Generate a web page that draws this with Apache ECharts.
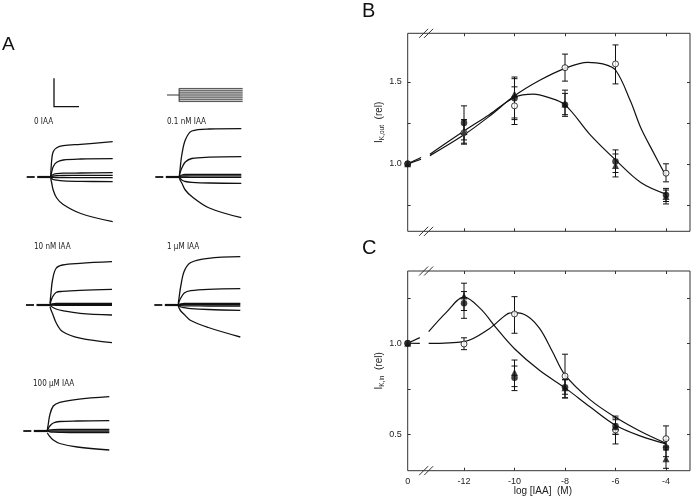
<!DOCTYPE html>
<html><head><meta charset="utf-8">
<script src="https://cdn.jsdelivr.net/npm/echarts@6/dist/echarts.min.js"></script>
<style>html,body{margin:0;padding:0;background:#fff}#c{width:694px;height:504px}</style>
</head><body><div id="c"></div>
<script>
// ================= DATA =================
// Panels B and C: dose (log[IAA], M); 0 = control (no IAA), drawn at the axis break
const doses = [0, -12, -10, -8, -6, -4];
const xTickLabels = ['0', '-12', '-10', '-8', '-6', '-4'];

// B: I_K,out (rel)
const koutOpen   = [1.00, 1.19, 1.354, 1.587, 1.61, 0.943];
const koutOpenLo = [null, 1.12, 1.24, 1.505, 1.488, 0.89];
const koutOpenHi = [null, 1.27, 1.47, 1.67, 1.726, 1.00];
const koutFill   = [1.00, 1.25, 1.40, 1.36, 1.014, 0.81];
const koutFillLo = [null, 1.146, 1.27, 1.29, 0.947, 0.77];
const koutFillHi = [null, 1.354, 1.53, 1.45, 1.085, 0.85];
const koutTri    = [1.00, 1.197, 1.427, 1.366, 0.99, 0.80];
const koutTriLo  = [null, 1.126, 1.28, 1.30, 0.92, 0.755];
const koutTriHi  = [null, 1.268, 1.52, 1.43, 1.06, 0.84];

// C: I_K,in (rel)
const kinOpen   = [1.00, 0.996, 1.161, 0.82, 0.524, 0.476];
const kinOpenLo = [null, 0.965, 1.055, 0.70, 0.447, 0.414];
const kinOpenHi = [null, 1.03, 1.256, 0.94, 0.60, 0.546];
const kinFill   = [1.00, 1.22, 0.811, 0.758, 0.546, 0.427];
const kinFillLo = [null, 1.137, 0.74, 0.72, 0.50, 0.377];
const kinFillHi = [null, 1.284, 0.875, 0.80, 0.59, 0.469];
const kinTri    = [1.00, 1.26, 0.839, 0.756, 0.542, 0.366];
const kinTriLo  = [null, 1.18, 0.762, 0.70, 0.50, 0.313];
const kinTriHi  = [null, 1.33, 0.908, 0.80, 0.58, 0.43];

// fitted curves; null = gap at axis break
const fitBOpenX = [0, -13.7, null, -13.35, -12, -11, -10, -9, -8, -7.1, -6.5, -6, -5.4, -5, -4.5, -4];
const fitBOpenY = [1.0, 1.028, null, 1.05, 1.177, 1.29, 1.415, 1.51, 1.583, 1.62, 1.61, 1.573, 1.38, 1.22, 1.07, 0.925];
const fitBFillX = [0, -13.7, null, -13.35, -12, -11, -10, -9.25, -8.7, -8, -7, -6, -5, -4];
const fitBFillY = [1.0, 1.039, null, 1.059, 1.20, 1.30, 1.405, 1.425, 1.407, 1.36, 1.177, 1.024, 0.886, 0.815];
const fitCFillX = [0, -13.75, null, -13.4, -12.7, -12, -11.35, -10.7, -10, -9, -8, -7, -6, -5, -4];
const fitCFillY = [1.0, 1.031, null, 1.064, 1.17, 1.253, 1.19, 1.08, 0.97, 0.85, 0.755, 0.65, 0.55, 0.49, 0.447];
const fitCOpenX = [0, -13.75, null, -13.4, -12, -11, -10.3, -10, -9.5, -9, -8.5, -8, -7, -6, -5, -4];
const fitCOpenY = [1.0, 0.999, null, 0.999, 1.009, 1.08, 1.16, 1.168, 1.15, 1.08, 0.955, 0.826, 0.689, 0.593, 0.515, 0.45];

// Panel A: current traces (a.u., + = outward), sampled at traceT (ms after step onset)
const traceT = [0, 1, 2.5, 6, 12.5, 30, 62];
const holdDashT = [-24, -16];
const holdPreT = [-13.5, 0];
const tr0IAA = [
  [0.3, 17, 25.3, 29.3, 31.3, 32.7, 35.3],
  [0, 5, 10.3, 14.7, 17, 18, 18.3],
  [0, 1.5, 2.5, 3.3, 3.8, 4.0, 4.3],
  [0, 0.5, 1, 1.3, 1.5, 1.6, 1.7],
  [0, -0.2, -0.4, -0.5, -0.6, -0.7, -0.7],
  [0, -1.5, -2.5, -3.2, -3.8, -4.3, -4.7],
  [-1, -6, -13, -21, -27.5, -36.5, -44.7]
];
const tr01nM = [
  [0, 10, 22, 37, 46, 48, 48.3],
  [1.3, 5, 9, 15, 18.5, 19.8, 20.3],
  [0, 1, 2, 2.5, 2.7, 2.7, 2.7],
  [0, 0.5, 0.8, 1, 1.1, 1.2, 1.2],
  [0, -0.2, -0.3, -0.3, -0.3, -0.3, -0.3],
  [0, -1.5, -3, -4.5, -5.3, -6, -6.3],
  [-1.3, -3.5, -6, -13, -19.5, -31, -40.7]
];
const tr10nM = [
  [1.7, 12, 25, 36.5, 40, 41.7, 43.3],
  [0.5, 4, 8, 12.5, 13.6, 14.7, 15.7],
  [0, 0.8, 1.2, 1.5, 1.6, 1.7, 1.7],
  [0, 0.3, 0.5, 0.6, 0.7, 0.7, 0.7],
  [0, -0.1, -0.2, -0.3, -0.3, -0.3, -0.3],
  [0, -1, -2.3, -4, -5.7, -8.3, -10],
  [-1.7, -5, -8.5, -17.5, -26.5, -33.2, -37.7]
];
const tr1uM = [
  [1.7, 9, 19, 34, 42.5, 46.7, 48.3],
  [0.5, 4, 7, 12, 14.3, 15.7, 16.3],
  [0, 0.8, 1.2, 1.5, 1.6, 1.7, 1.7],
  [0, 0.2, 0.4, 0.5, 0.5, 0.5, 0.5],
  [0, -0.3, -0.6, -0.8, -0.9, -1, -1],
  [0, -1, -2, -2.7, -3.6, -4.5, -5.3],
  [-1, -3.5, -6, -9.5, -15.5, -22.5, -32]
];
const tr100uM = [
  [1, 7, 16, 25, 28.7, 31.7, 34.3],
  [0, 2.5, 5, 8, 9.5, 10, 10.3],
  [0, 0.6, 1.1, 1.4, 1.6, 1.7, 1.7],
  [0, 0, 0, 0, 0, 0, 0],
  [0, -0.4, -0.8, -1.1, -1.3, -1.5, -1.5],
  [-1.7, -3.5, -5.5, -9, -12.5, -16, -19]
];
const panelLabels = ['0 IAA', '0.1 nM IAA', '10 nM IAA', '1 \u00b5M IAA', '100 \u00b5M IAA'];

// voltage protocol inset (mV)
const protoSteps = [50, 20, -10, -40, -70, -100, -130, -160];
const protoHold = -55;
const protoLeadT = [-12, 0];
const protoEndT = 63;

// ================= LAYOUT / STYLE =================
const ZERO_POS = -14.23;   // where the control (0) is drawn on the broken log axis
const X_MAX = -3.05;
const mapX = d => (d === 0 ? ZERO_POS : d);
const FONT = 'Liberation Sans, Arial, sans-serif';
const INK = '#111';

const grids = [], xAxes = [], yAxes = [], series = [], graphics = [];

function hiddenGrid(rect, xmin, xmax, ymin, ymax) {
  grids.push(Object.assign({ containLabel: false }, rect));
  const gi = grids.length - 1;
  xAxes.push({ gridIndex: gi, type: 'value', min: xmin, max: xmax, show: false });
  yAxes.push({ gridIndex: gi, type: 'value', min: ymin, max: ymax, show: false });
  return xAxes.length - 1;
}

// ---- Panel A trace grids ----
const panelA = [
  { traces: tr0IAA,  left: 25.7,  top: 127, lx: 34,  ly: 123 },
  { traces: tr01nM,  left: 154.3, top: 127, lx: 167, ly: 123 },
  { traces: tr10nM,  left: 25,    top: 255, lx: 34,  ly: 247.5 },
  { traces: tr1uM,   left: 153.3, top: 255, lx: 167, ly: 247.5 },
  { traces: tr100uM, left: 22.3,  top: 381, lx: 33,  ly: 385 }
];
panelA.forEach((p, k) => {
  const ai = hiddenGrid({ left: p.left, top: p.top, width: 87, height: 100 }, -25, 62, -50, 50);
  series.push({ type: 'line', xAxisIndex: ai, yAxisIndex: ai, symbol: 'none', silent: true,
    data: holdDashT.map(t => [t, 0]), lineStyle: { color: INK, width: 1.8 } });
  series.push({ type: 'line', xAxisIndex: ai, yAxisIndex: ai, symbol: 'none', silent: true,
    data: holdPreT.map(t => [t, 0]), lineStyle: { color: INK, width: 2.2 } });
  p.traces.forEach(tr => {
    series.push({ type: 'line', xAxisIndex: ai, yAxisIndex: ai, symbol: 'none', silent: true,
      smooth: 0.35,
      data: traceT.map((t, i) => [t, tr[i]]), lineStyle: { color: INK, width: 1.3 } });
  });
  graphics.push({ type: 'text', left: p.lx, top: p.ly - 5,
    style: { text: panelLabels[k], fontSize: 8, fontFamily: 'Liberation Sans Narrow, DejaVu Sans Condensed, ' + FONT, fill: '#222' } });
});

// ---- protocol inset ----
(function () {
  const ai = hiddenGrid({ left: 167, top: 88.3, width: 75.7, height: 13.4 }, protoLeadT[0], protoEndT,
    Math.min(...protoSteps), Math.max(...protoSteps));
  series.push({ type: 'line', xAxisIndex: ai, yAxisIndex: ai, symbol: 'none', silent: true,
    data: protoLeadT.map(t => [t, protoHold]), lineStyle: { color: '#333', width: 1 } });
  series.push({ type: 'line', xAxisIndex: ai, yAxisIndex: ai, symbol: 'none', silent: true,
    data: [[0, Math.min(...protoSteps)], [0, Math.max(...protoSteps)]], lineStyle: { color: '#333', width: 1 } });
  protoSteps.forEach(v => {
    series.push({ type: 'line', xAxisIndex: ai, yAxisIndex: ai, symbol: 'none', silent: true,
      data: [[0, v], [protoEndT, v]], lineStyle: { color: '#333', width: 1 } });
  });
})();

// ---- Panels B and C ----
function plotPanel(rect, ymin, ymax, tickVals, labelVals, yName, showX, namePad) {
  grids.push(Object.assign({ show: true, borderColor: '#333', borderWidth: 1, backgroundColor: 'transparent' }, rect));
  const gi = grids.length - 1;
  const tickX = doses.slice(1);
  const xi = xAxes.length;
  xAxes.push({
    gridIndex: gi, type: 'value', min: ZERO_POS, max: X_MAX, position: 'bottom',
    splitLine: { show: false }, axisLine: { show: false },
    axisTick: { show: true, inside: true, length: 3, customValues: tickX, lineStyle: { color: '#333' } },
    axisLabel: { show: showX, customValues: doses.map(mapX), margin: 6, fontSize: 9, fontFamily: FONT, color: '#222',
      formatter: v => { const i = doses.map(mapX).findIndex(d => Math.abs(d - v) < 1e-6); return i >= 0 ? xTickLabels[i] : ''; } },
    name: showX ? 'log [IAA]  (M)' : '', nameLocation: 'middle', nameGap: 14,
    nameTextStyle: { fontSize: 10, fontFamily: FONT, color: '#222', padding: [0, 12, 0, 0] }
  });
  xAxes.push({
    gridIndex: gi, type: 'value', min: ZERO_POS, max: X_MAX, position: 'top',
    splitLine: { show: false }, axisLine: { show: false }, axisLabel: { show: false },
    axisTick: { show: true, inside: true, length: 3, customValues: tickX, lineStyle: { color: '#333' } }
  });
  const yi = yAxes.length;
  yAxes.push({
    gridIndex: gi, type: 'value', min: ymin, max: ymax, position: 'left',
    splitLine: { show: false }, axisLine: { show: false },
    axisTick: { show: true, inside: true, length: 3, customValues: tickVals, lineStyle: { color: '#333' } },
    axisLabel: { customValues: labelVals, margin: 6, fontSize: 9, fontFamily: FONT, color: '#222', formatter: v => v.toFixed(1) },
    name: yName, nameLocation: 'middle', nameGap: 20,
    nameTextStyle: { fontSize: 10, fontFamily: FONT, color: '#222', padding: [0, 0, 0, namePad],
      rich: { i: { fontSize: 10, fontFamily: FONT, color: '#222' },
              s: { fontSize: 6.5, fontFamily: FONT, color: '#222', verticalAlign: 'bottom', padding: [5, 0, 0, 0] } } }
  });
  yAxes.push({
    gridIndex: gi, type: 'value', min: ymin, max: ymax, position: 'right',
    splitLine: { show: false }, axisLine: { show: false }, axisLabel: { show: false },
    axisTick: { show: true, inside: true, length: 3, customValues: tickVals, lineStyle: { color: '#333' } }
  });
  return { xi, yi };
}

function fitSeries(ax, xs, ys) {
  let seg = [];
  const flush = () => {
    if (seg.length) series.push({ type: 'line', xAxisIndex: ax.xi, yAxisIndex: ax.yi, symbol: 'none', silent: true,
      smooth: 0.35, z: 2, data: seg, lineStyle: { color: INK, width: 1.2 } });
    seg = [];
  };
  xs.forEach((x, i) => { if (x === null) flush(); else seg.push([mapX(x), ys[i]]); });
  flush();
}

function errSeries(ax, lo, hi) {
  const data = [];
  doses.forEach((d, i) => { if (lo[i] != null) data.push([mapX(d), lo[i], hi[i]]); });
  series.push({
    type: 'custom', xAxisIndex: ax.xi, yAxisIndex: ax.yi, silent: true, z: 3,
    encode: { x: 0, y: [1, 2] }, data,
    renderItem: (params, api) => {
      const a = api.coord([api.value(0), api.value(1)]);
      const b = api.coord([api.value(0), api.value(2)]);
      const w = 3, st = { stroke: INK, lineWidth: 1 };
      return { type: 'group', children: [
        { type: 'line', shape: { x1: a[0], y1: a[1], x2: b[0], y2: b[1] }, style: st },
        { type: 'line', shape: { x1: a[0] - w, y1: a[1], x2: a[0] + w, y2: a[1] }, style: st },
        { type: 'line', shape: { x1: b[0] - w, y1: b[1], x2: b[0] + w, y2: b[1] }, style: st }
      ] };
    }
  });
}

function markerSeries(ax, vals, kind) {
  const s = { type: 'scatter', xAxisIndex: ax.xi, yAxisIndex: ax.yi, silent: true, z: 4,
    data: doses.map((d, i) => [mapX(d), vals[i]]) };
  if (kind === 'open') Object.assign(s, { symbol: 'circle', symbolSize: 6, itemStyle: { color: '#fff', borderColor: INK, borderWidth: 1 } });
  if (kind === 'fill') Object.assign(s, { symbol: 'circle', symbolSize: 6.5, itemStyle: { color: INK } });
  if (kind === 'tri')  Object.assign(s, { symbol: 'triangle', symbolSize: 7, itemStyle: { color: INK } });
  series.push(s);
}

const axB = plotPanel({ left: 407.7, top: 33.3, width: 282.3, height: 198 }, 0.588, 1.797,
  [0.75, 1.0, 1.25, 1.5], [1.0, 1.5], '{i|I}{s|K,out}{i|  (rel)}', false, 20);
const axC = plotPanel({ left: 407.7, top: 271, width: 282.3, height: 199.7 }, 0.30, 1.397,
  [0.5, 0.75, 1.0, 1.25], [0.5, 1.0], '{i|I}{s|K,in}{i|  (rel)}', true, 0);

fitSeries(axB, fitBOpenX, fitBOpenY);
fitSeries(axB, fitBFillX, fitBFillY);
errSeries(axB, koutOpenLo, koutOpenHi);
errSeries(axB, koutTriLo, koutTriHi);
errSeries(axB, koutFillLo, koutFillHi);
markerSeries(axB, koutOpen, 'open');
markerSeries(axB, koutTri, 'tri');
markerSeries(axB, koutFill, 'fill');

fitSeries(axC, fitCOpenX, fitCOpenY);
fitSeries(axC, fitCFillX, fitCFillY);
errSeries(axC, kinOpenLo, kinOpenHi);
errSeries(axC, kinTriLo, kinTriHi);
errSeries(axC, kinFillLo, kinFillHi);
markerSeries(axC, kinOpen, 'open');
markerSeries(axC, kinTri, 'tri');
markerSeries(axC, kinFill, 'fill');

// panel letters, scale bar
graphics.push({ type: 'text', left: 2, top: 35, style: { text: 'A', fontSize: 19, fontFamily: FONT, fill: '#111' } });
graphics.push({ type: 'text', left: 362, top: 1, style: { text: 'B', fontSize: 20, fontFamily: FONT, fill: '#111' } });
graphics.push({ type: 'text', left: 362, top: 238, style: { text: 'C', fontSize: 20, fontFamily: FONT, fill: '#111' } });
graphics.push({ type: 'polyline', shape: { points: [[54, 78.3], [54, 106.7], [79, 106.7]] }, style: { stroke: INK, lineWidth: 1.3, fill: null } });

const chart = echarts.init(document.getElementById('c'), null, { renderer: 'canvas' });
chart.setOption({ animation: false, grid: grids, xAxis: xAxes, yAxis: yAxes, series, graphic: graphics });

// axis-break marks (//) on top and bottom edges of B and C
const breakX = -13.5;
const marks = [];
[[axB, 1.797], [axB, 0.588], [axC, 1.397], [axC, 0.30]].forEach(([ax, yv]) => {
  const p = chart.convertToPixel({ xAxisIndex: ax.xi, yAxisIndex: ax.yi }, [breakX, yv]);
  [-2.5, 2.5].forEach(off => {
    marks.push({ type: 'line', shape: { x1: p[0] + off - 4.5, y1: p[1] + 4.5, x2: p[0] + off + 4.5, y2: p[1] - 4.5 },
      style: { stroke: '#333', lineWidth: 1 }, z: 10 });
  });
});
chart.setOption({ graphic: graphics.concat(marks) });
</script></body></html>
